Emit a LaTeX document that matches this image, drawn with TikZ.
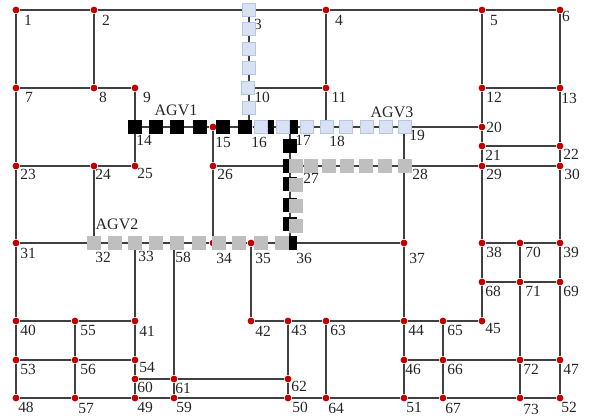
\documentclass[tikz,border=0pt]{standalone}
\usepackage{fontspec}
\setmainfont{Liberation Serif}
\usetikzlibrary{positioning}
\definecolor{dotred}{HTML}{C00000}
\definecolor{agvgray}{HTML}{BFBFBF}
\definecolor{agvblue}{HTML}{D9E2F3}
\definecolor{agvedge}{HTML}{B4C7E7}
\definecolor{trackgray}{HTML}{404040}

\begin{document}
\begin{tikzpicture}[
  x=1pt,y=-1pt,
  junction/.style={circle,fill=dotred,inner sep=0pt,minimum size=6.8pt},
  tag/.style={font=\fontsize{15.5}{15.5}\selectfont,inner sep=0pt,text=black!85},
  agvtag/.style={font=\fontsize{16}{16}\selectfont,inner sep=0pt,text=black!85},
  track/.style={draw=trackgray,line width=1.2pt},
  agvone/.style={rectangle,fill=black,inner sep=0pt,minimum size=14.4pt},
  agvtwo/.style={rectangle,fill=agvgray,inner sep=0pt,minimum size=14.4pt},
  agvthree/.style={rectangle,fill=agvblue,draw=agvedge,line width=1pt,inner sep=0pt,minimum size=13.4pt}
]
\useasboundingbox (0,0) rectangle (590,418);

\node[junction] (n1) at (16,10) {};    \node[tag] (t1) at (28,20) {1};
\node[junction] (n2) at (94,10) {};    \node[tag] (t2) at (106,20) {2};
\node[junction] (n3) at (249,10) {};   \node[tag] (t3) at (258,24) {3};
\node[junction] (n4) at (326,10) {};   \node[tag] (t4) at (339,20) {4};
\node[junction] (n5) at (482,10) {};   \node[tag] (t5) at (494,20) {5};
\node[junction] (n6) at (560,10) {};   \node[tag] (t6) at (566,16) {6};
\node[junction] (n7) at (16,88) {};    \node[tag] (t7) at (29,97) {7};
\node[junction] (n8) at (94,88) {};    \node[tag] (t8) at (103,97) {8};
\node[junction] (n9) at (135,88) {};   \node[tag] (t9) at (147,97) {9};
\node[junction] (n10) at (249,88) {};  \node[tag] (t10) at (262,97) {10};
\node[junction] (n11) at (326,88) {};  \node[tag] (t11) at (339,97) {11};
\node[junction] (n12) at (482,88) {};  \node[tag] (t12) at (494,97) {12};
\node[junction] (n13) at (560,88) {};  \node[tag] (t13) at (569,98) {13};
\node[junction] (n14) at (135,127) {}; \node[tag] (t14) at (144,140) {14};
\node[junction] (n15) at (213,127) {}; \node[tag] (t15) at (223,142) {15};
\node[junction] (n16) at (249,127) {}; \node[tag] (t16) at (259,142) {16};
\node[junction] (n17) at (290,127) {}; \node[tag] (t17) at (303,140) {17};
\node[junction] (n18) at (326,127) {}; \node[tag] (t18) at (337,141) {18};
\node[junction] (n19) at (404,127) {}; \node[tag] (t19) at (417,135) {19};
\node[junction] (n20) at (482,127) {}; \node[tag] (t20) at (494,127) {20};
\node[junction] (n21) at (482,146) {}; \node[tag] (t21) at (493,155) {21};
\node[junction] (n22) at (560,146) {}; \node[tag] (t22) at (571,154) {22};
\node[junction] (n23) at (16,166) {};  \node[tag] (t23) at (28,174) {23};
\node[junction] (n24) at (94,166) {};  \node[tag] (t24) at (103,174) {24};
\node[junction] (n25) at (135,166) {}; \node[tag] (t25) at (145,173) {25};
\node[junction] (n26) at (213,166) {}; \node[tag] (t26) at (225,174) {26};
\node[junction] (n27) at (290,166) {}; \node[tag] (t27) at (311,178) {27};
\node[junction] (n28) at (404,166) {}; \node[tag] (t28) at (420,174) {28};
\node[junction] (n29) at (482,166) {}; \node[tag] (t29) at (494,174) {29};
\node[junction] (n30) at (560,166) {}; \node[tag] (t30) at (572,174) {30};
\node[junction] (n31) at (16,243) {};  \node[tag] (t31) at (28,253) {31};
\node[junction] (n32) at (94,243) {};  \node[tag] (t32) at (103,257) {32};
\node[junction] (n33) at (135,243) {}; \node[tag] (t33) at (146,256) {33};
\node[junction] (n34) at (213,243) {}; \node[tag] (t34) at (224,258) {34};
\node[junction] (n35) at (251,243) {}; \node[tag] (t35) at (263,258) {35};
\node[junction] (n36) at (290,243) {}; \node[tag] (t36) at (304,258) {36};
\node[junction] (n37) at (404,243) {}; \node[tag] (t37) at (417,258) {37};
\node[junction] (n38) at (482,243) {}; \node[tag] (t38) at (494,252) {38};
\node[junction] (n39) at (560,243) {}; \node[tag] (t39) at (571,252) {39};
\node[junction] (n40) at (16,321) {};  \node[tag] (t40) at (28,330) {40};
\node[junction] (n41) at (135,321) {}; \node[tag] (t41) at (147,331) {41};
\node[junction] (n42) at (251,321) {}; \node[tag] (t42) at (263,331) {42};
\node[junction] (n43) at (288,321) {}; \node[tag] (t43) at (299,330) {43};
\node[junction] (n44) at (404,321) {}; \node[tag] (t44) at (416,330) {44};
\node[junction] (n45) at (482,321) {}; \node[tag] (t45) at (493,328) {45};
\node[junction] (n46) at (404,360) {}; \node[tag] (t46) at (413,369) {46};
\node[junction] (n47) at (560,360) {}; \node[tag] (t47) at (571,369) {47};
\node[junction] (n48) at (16,398) {};  \node[tag] (t48) at (26,407) {48};
\node[junction] (n49) at (135,398) {}; \node[tag] (t49) at (145,407) {49};
\node[junction] (n50) at (288,398) {}; \node[tag] (t50) at (300,407) {50};
\node[junction] (n51) at (404,398) {}; \node[tag] (t51) at (414,407) {51};
\node[junction] (n52) at (560,398) {}; \node[tag] (t52) at (569,407) {52};
\node[junction] (n53) at (16,360) {};  \node[tag] (t53) at (28,369) {53};
\node[junction] (n54) at (135,360) {}; \node[tag] (t54) at (147,367) {54};
\node[junction] (n55) at (75,321) {};  \node[tag] (t55) at (88,330) {55};
\node[junction] (n56) at (75,360) {};  \node[tag] (t56) at (88,369) {56};
\node[junction] (n57) at (75,398) {};  \node[tag] (t57) at (86,408) {57};
\node[junction] (n58) at (174,243) {}; \node[tag] (t58) at (183,257) {58};
\node[junction] (n59) at (174,398) {}; \node[tag] (t59) at (184,407) {59};
\node[junction] (n60) at (135,379) {}; \node[tag] (t60) at (145,387) {60};
\node[junction] (n61) at (174,379) {}; \node[tag] (t61) at (183,388) {61};
\node[junction] (n62) at (288,379) {}; \node[tag] (t62) at (299,386) {62};
\node[junction] (n63) at (326,321) {}; \node[tag] (t63) at (338,330) {63};
\node[junction] (n64) at (326,398) {}; \node[tag] (t64) at (336,408) {64};
\node[junction] (n65) at (443,321) {}; \node[tag] (t65) at (455,330) {65};
\node[junction] (n66) at (443,360) {}; \node[tag] (t66) at (455,369) {66};
\node[junction] (n67) at (443,398) {}; \node[tag] (t67) at (453,408) {67};
\node[junction] (n68) at (482,282) {}; \node[tag] (t68) at (493,291) {68};
\node[junction] (n69) at (560,282) {}; \node[tag] (t69) at (571,291) {69};
\node[junction] (n70) at (520,243) {}; \node[tag] (t70) at (533,252) {70};
\node[junction] (n71) at (520,282) {}; \node[tag] (t71) at (533,291) {71};
\node[junction] (n72) at (520,360) {}; \node[tag] (t72) at (531,369) {72};
\node[junction] (n73) at (520,398) {}; \node[tag] (t73) at (531,409) {73};

\draw[track] (n1) -- (n2) -- (n3) -- (n4) -- (n5) -- (n6);
\draw[track] (n7) -- (n8) -- (n9);
\draw[track] (n10) -- (n11);
\draw[track] (n12) -- (n13);
\draw[track] (n14) -- (n15) -- (n16) -- (n17) -- (n18) -- (n19) -- (n20);
\draw[track] (n21) -- (n22);
\draw[track] (n23) -- (n24) -- (n25);
\draw[track] (n26) -- (n27) -- (n28) -- (n29) -- (n30);
\draw[track] (n31) -- (n32) -- (n33) -- (n58) -- (n34) -- (n35) -- (n36) -- (n37);
\draw[track] (n38) -- (n70) -- (n39);
\draw[track] (n68) -- (n71) -- (n69);
\draw[track] (n40) -- (n55) -- (n41);
\draw[track] (n42) -- (n43) -- (n63) -- (n44) -- (n65) -- (n45);
\draw[track] (n53) -- (n56) -- (n54);
\draw[track] (n46) -- (n66) -- (n72) -- (n47);
\draw[track] (n60) -- (n61) -- (n62);
\draw[track] (n48) -- (n57) -- (n49) -- (n59) -- (n50) -- (n64) -- (n51) -- (n67) -- (n73) -- (n52);
\draw[track] (n1) -- (n7) -- (n23) -- (n31) -- (n40) -- (n53) -- (n48);
\draw[track] (n2) -- (n8);
\draw[track] (n9) -- (n14) -- (n25);
\draw[track] (n24) -- (n32);
\draw[track] (n3) -- (n10) -- (n16);
\draw[track] (n15) -- (n26) -- (n34);
\draw[track] (n4) -- (n11) -- (n18);
\draw[track] (n17) -- (n27) -- (n36);
\draw[track] (n19) -- (n28) -- (n37) -- (n44) -- (n46) -- (n51);
\draw[track] (n5) -- (n12) -- (n20) -- (n21) -- (n29) -- (n38) -- (n68) -- (n45);
\draw[track] (n6) -- (n13) -- (n22) -- (n30) -- (n39) -- (n69) -- (n47) -- (n52);
\draw[track] (n33) -- (n41) -- (n54) -- (n60) -- (n49);
\draw[track] (n58) -- (n61) -- (n59);
\draw[track] (n35) -- (n42);
\draw[track] (n43) -- (n62) -- (n50);
\draw[track] (n63) -- (n64);
\draw[track] (n65) -- (n66) -- (n67);
\draw[track] (n70) -- (n71) -- (n72) -- (n73);
\draw[track] (n55) -- (n56) -- (n57);

\node[agvone] (a1) at (135,127) {};
\node[agvone] (a2) at (156,127) {};
\node[agvone] (a3) at (177,127) {};
\node[agvone] (a4) at (200,127) {};
\node[agvone] (a5) at (223,127) {};
\node[agvone] (a6) at (245,127) {};
\node[agvone] (a7) at (267,127) {};
\node[agvone] (a8) at (291,127) {};
\node[agvone] (a9) at (290,146) {};
\node[agvone] (a10) at (290,166) {};
\node[agvone] (a11) at (290,184) {};
\node[agvone] (a12) at (290,205) {};
\node[agvone] (a13) at (290,224) {};
\node[agvone] (a14) at (290,243) {};

\node[agvtwo] (b1) at (94,243) {};
\node[agvtwo] (b2) at (115,243) {};
\node[agvtwo] (b3) at (135,243) {};
\node[agvtwo] (b4) at (156,243) {};
\node[agvtwo] (b5) at (177,243) {};
\node[agvtwo] (b6) at (199,243) {};
\node[agvtwo] (b7) at (219,243) {};
\node[agvtwo] (b8) at (239,243) {};
\node[agvtwo] (b9) at (261,243) {};
\node[agvtwo] (b10) at (282,243) {};
\node[agvtwo] (b11) at (296,226) {};
\node[agvtwo] (b12) at (296,206) {};
\node[agvtwo] (b13) at (296,185) {};
\node[agvtwo] (b14) at (296,166) {};
\node[agvtwo] (b15) at (311,166) {};
\node[agvtwo] (b16) at (329,166) {};
\node[agvtwo] (b17) at (347,166) {};
\node[agvtwo] (b18) at (366,166) {};
\node[agvtwo] (b19) at (385,166) {};
\node[agvtwo] (b20) at (405,166) {};

\node[agvthree] (c1) at (249,10) {};
\node[agvthree] (c2) at (249,29) {};
\node[agvthree] (c3) at (249,49) {};
\node[agvthree] (c4) at (249,68) {};
\node[agvthree] (c5) at (248,88) {};
\node[agvthree] (c6) at (249,108) {};
\node[agvthree] (c7) at (261,127) {};
\node[agvthree] (c8) at (283,127) {};
\node[agvthree] (c9) at (307,127) {};
\node[agvthree] (c10) at (327,127) {};
\node[agvthree] (c11) at (346,127) {};
\node[agvthree] (c12) at (367,127) {};
\node[agvthree] (c13) at (386,127) {};
\node[agvthree] (c14) at (405,127) {};

\node[agvtag] (agv1) at (176,110) {AGV1};
\node[agvtag] (agv2) at (117,224) {AGV2};
\node[agvtag] (agv3) at (392,112) {AGV3};
\end{tikzpicture}
\end{document}
